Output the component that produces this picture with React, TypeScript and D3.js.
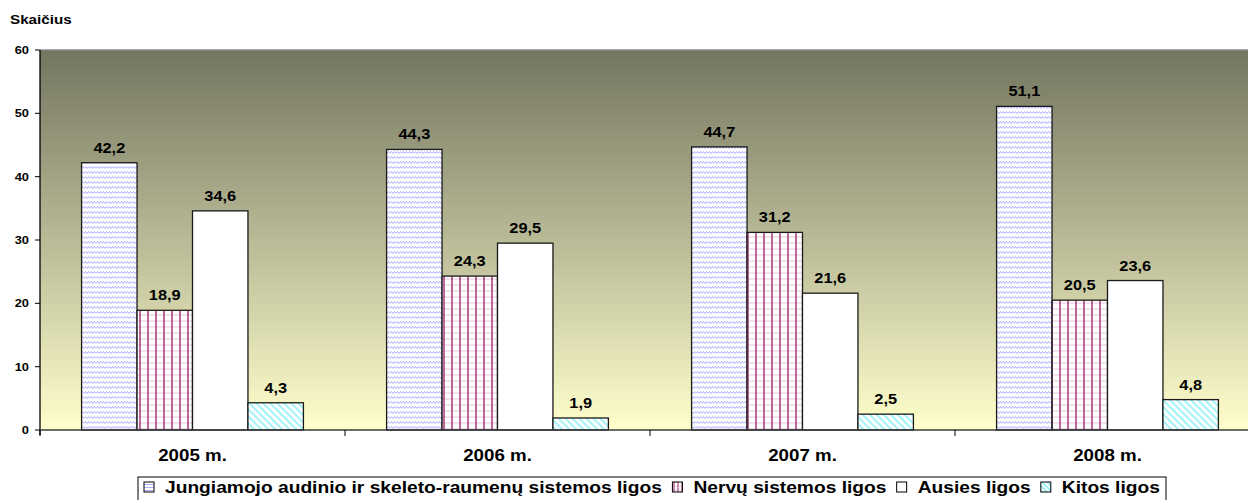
import React from "react";
import * as d3 from "d3";

const categories = ["2005 m.", "2006 m.", "2007 m.", "2008 m."];
const seriesNames = [
  "Jungiamojo audinio ir skeleto-raumenų sistemos ligos",
  "Nervų sistemos ligos",
  "Ausies ligos",
  "Kitos ligos",
];
const jungiamojo = [42.2, 44.3, 44.7, 51.1];
const nervu = [18.9, 24.3, 31.2, 20.5];
const ausies = [34.6, 29.5, 21.6, 23.6];
const kitos = [4.3, 1.9, 2.5, 4.8];
const yTicks = [0, 10, 20, 30, 40, 50, 60];

const series = [jungiamojo, nervu, ausies, kitos];
const fills = ["url(#pZig)", "url(#pGrid)", "#ffffff", "url(#pDiag)"];
const markerFills = ["url(#pZigS)", "url(#pGridS)", "#ffffff", "url(#pDiagS)"];

const W = 1248;
const H = 500;
const M = { left: 40, top: 50, right: 1260, bottom: 430 };
const FONT = "'Liberation Sans', Arial, sans-serif";
const SX = 1.17;

function measure(text: string, font: string) {
  const c = document.createElement("canvas").getContext("2d");
  if (!c) return text.length * 8;
  c.font = font;
  return c.measureText(text).width;
}

function SText(props: {
  x: number;
  y: number;
  size: number;
  anchor?: "start" | "middle" | "end";
  sx?: number;
  children: React.ReactNode;
}) {
  const sx = props.sx ?? SX;
  return (
    <text
      transform={`translate(${props.x},${props.y}) scale(${sx},1)`}
      textAnchor={props.anchor ?? "start"}
      fontSize={props.size}
      fontWeight="bold"
      fill="#000"
    >
      {props.children}
    </text>
  );
}

export default function App() {
  const x0 = d3.scaleBand<string>().domain(categories).range([M.left, M.right]).paddingInner(0).paddingOuter(0);
  const x1 = d3
    .scaleBand<number>()
    .domain([0, 1, 2, 3])
    .range([0, x0.bandwidth()])
    .paddingOuter(0.75)
    .paddingInner(0);
  const y = d3.scaleLinear().domain([0, 60]).range([M.bottom, M.top]);

  // legend layout
  const legendFont = `bold 16px ${FONT}`;
  const boxL = 138;
  const boxR = 1166;
  const pad = 6;
  const markerW = 10;
  const gapMarker = 11;
  const gapItem = 10;
  const rawW = seriesNames.map((n) => measure(n, legendFont));
  const avail = boxR - boxL - 2 * pad - seriesNames.length * (markerW + gapMarker) - gapItem * (seriesNames.length - 1);
  const lsx = avail / d3.sum(rawW);
  let lx = boxL + pad;
  const legendItems = seriesNames.map((n, i) => {
    const item = { name: n, x: lx, i };
    lx += markerW + gapMarker + rawW[i] * lsx + gapItem;
    return item;
  });

  const boundaries = [...categories.map((c) => x0(c) as number), M.right];

  return (
    <svg width={W} height={H} style={{ position: "absolute", left: 0, top: 0 }} fontFamily={FONT}>
      <defs>
        <linearGradient id="bg" x1="0" y1="0" x2="0" y2="1">
          <stop offset="0" stopColor="#737560" />
          <stop offset="1" stopColor="#ffffcc" />
        </linearGradient>
        <pattern id="pZig" width="6" height="5" patternUnits="userSpaceOnUse">
          <rect width="6" height="5" fill="#ffffff" />
          <path d="M0,3.5 L1.5,1.5 L3,3.5 L4.5,1.5 L6,3.5" fill="none" stroke="#a4a4ff" strokeWidth="0.9" />
        </pattern>
        <pattern id="pZigS" width="4" height="3" patternUnits="userSpaceOnUse">
          <rect width="4" height="3" fill="#ffffff" />
          <path d="M0,2 L1,1 L2,2 L3,1 L4,2" fill="none" stroke="#9a9aff" strokeWidth="0.8" />
        </pattern>
        <pattern id="pGrid" width="8" height="6" patternUnits="userSpaceOnUse">
          <rect width="8" height="6" fill="#ffffff" />
          <line x1="0" y1="3" x2="8" y2="3" stroke="#e6c6d8" strokeWidth="1" />
          <line x1="4" y1="0" x2="4" y2="6" stroke="#a02a6e" strokeWidth="1.4" />
        </pattern>
        <pattern id="pGridS" width="4" height="4" patternUnits="userSpaceOnUse">
          <rect width="4" height="4" fill="#ffffff" />
          <line x1="0" y1="2" x2="4" y2="2" stroke="#e6c6d8" strokeWidth="0.8" />
          <line x1="2" y1="0" x2="2" y2="4" stroke="#a02a6e" strokeWidth="1" />
        </pattern>
        <pattern id="pDiag" width="7" height="7" patternUnits="userSpaceOnUse">
          <rect width="7" height="7" fill="#ffffff" />
          <path d="M-2,-2 L9,9 M-2,5 L2,9 M5,-2 L9,2" stroke="#a8f4f8" strokeWidth="2.2" />
        </pattern>
        <pattern id="pDiagS" width="5" height="5" patternUnits="userSpaceOnUse">
          <rect width="5" height="5" fill="#ffffff" />
          <path d="M-2,-2 L7,7 M-2,3 L2,7 M3,-2 L7,2" stroke="#8eeef4" strokeWidth="1.6" />
        </pattern>
      </defs>

      <SText x={10} y={24} size={13}>
        Skaičius
      </SText>

      <rect x={M.left} y={M.top} width={M.right - M.left} height={M.bottom - M.top} fill="url(#bg)" />
      <line x1={M.left} y1={M.top} x2={M.right} y2={M.top} stroke="#8a8a8a" strokeWidth={1.5} />

      {categories.map((c, ci) =>
        series.map((s, si) => {
          const bx = (x0(c) as number) + (x1(si) as number);
          const by = y(s[ci]);
          return (
            <g key={`${ci}-${si}`}>
              <rect
                x={bx}
                y={by}
                width={x1.bandwidth()}
                height={M.bottom - by}
                fill={fills[si]}
                stroke="#1a1a1a"
                strokeWidth={1.3}
              />
              <SText x={bx + x1.bandwidth() / 2} y={by - 10} size={14} anchor="middle">
                {String(s[ci]).replace(".", ",")}
              </SText>
            </g>
          );
        })
      )}

      {/* y axis */}
      <line x1={M.left} y1={M.top} x2={M.left} y2={M.bottom + 5} stroke="#000" strokeWidth={1.3} />
      {yTicks.map((t) => (
        <g key={t}>
          <line x1={M.left - 5} y1={y(t)} x2={M.left} y2={y(t)} stroke="#000" strokeWidth={1} />
          <SText x={M.left - 11} y={y(t) + 4} size={11} anchor="end">
            {t}
          </SText>
        </g>
      ))}

      {/* x axis */}
      <line x1={M.left} y1={M.bottom} x2={M.right} y2={M.bottom} stroke="#3a3a3a" strokeWidth={1.6} />
      {boundaries.map((bx, i) => (
        <line key={i} x1={bx} y1={M.bottom} x2={bx} y2={M.bottom + 6} stroke="#000" strokeWidth={1} />
      ))}
      {categories.map((c) => (
        <SText key={c} x={(x0(c) as number) + x0.bandwidth() / 2} y={461} size={16} anchor="middle">
          {c}
        </SText>
      ))}

      {/* legend */}
      <rect x={boxL} y={477} width={boxR - boxL} height={28} fill="#ffffff" stroke="#000" strokeWidth={1} />
      {legendItems.map((it) => (
        <g key={it.name}>
          <rect
            x={it.x}
            y={482}
            width={markerW}
            height={markerW}
            fill={markerFills[it.i]}
            stroke="#000"
            strokeWidth={1}
          />
          <SText x={it.x + markerW + gapMarker} y={493} size={16} sx={lsx}>
            {it.name}
          </SText>
        </g>
      ))}
    </svg>
  );
}
